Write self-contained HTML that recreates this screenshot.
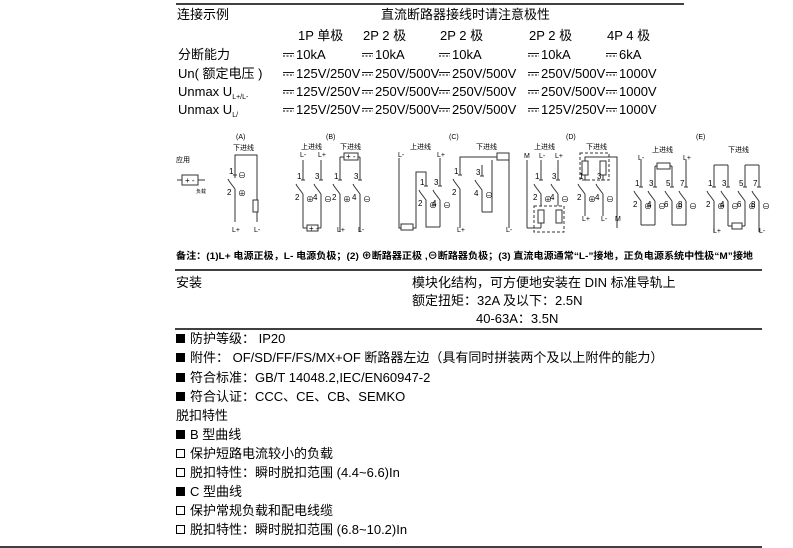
<!DOCTYPE html>
<html><head><meta charset="utf-8"><style>
html,body{margin:0;padding:0;background:#fff;}
svg{display:block}
text{font-family:"Liberation Sans","Noto Sans CJK SC",sans-serif;fill:#000}
.t{font-size:13px}
.s{font-size:7px}
.n{font-size:9.5px;font-weight:bold}
</style></head><body>
<svg width="793" height="548" viewBox="0 0 793 548" xmlns="http://www.w3.org/2000/svg">
<g stroke="#000" stroke-width="1.4">
<line x1="176" y1="4" x2="684" y2="4"/>
<line x1="175" y1="270" x2="762" y2="270"/>
<line x1="175" y1="329" x2="762" y2="329"/>
<line x1="0" y1="547" x2="762" y2="547"/>
</g>
<g class="t">
<text x="177" y="19">连接示例</text>
<text x="381" y="19">直流断路器接线时请注意极性</text>
<text x="298" y="40">1P 单极</text><text x="363" y="40">2P 2 极</text><text x="440" y="40">2P 2 极</text><text x="529" y="40">2P 2 极</text><text x="607" y="40">4P 4 极</text>
<text x="178" y="59">分断能力</text>
<text x="178" y="78">Un( 额定电压 )</text>
<text x="178" y="96">Unmax U<tspan font-size="7" dy="3">L+/L-</tspan></text>
<text x="178" y="114">Unmax U<tspan font-size="7" dy="3">L/</tspan></text>
<text x="296" y="59">10kA</text><text x="375" y="59">10kA</text><text x="452" y="59">10kA</text><text x="541" y="59">10kA</text><text x="619" y="59">6kA</text>
<text x="296" y="78">125V/250V</text><text x="375" y="78">250V/500V</text><text x="452" y="78">250V/500V</text><text x="541" y="78">250V/500V</text><text x="619" y="78">1000V</text>
<text x="296" y="96">125V/250V</text><text x="375" y="96">250V/500V</text><text x="452" y="96">250V/500V</text><text x="541" y="96">250V/500V</text><text x="619" y="96">1000V</text>
<text x="296" y="114">125V/250V</text><text x="375" y="114">250V/500V</text><text x="452" y="114">250V/500V</text><text x="541" y="114">125V/250V</text><text x="619" y="114">1000V</text>
</g>
<g id="dc" stroke="#000" stroke-width="0.9"></g>
<g id="d" stroke="#333" stroke-width="1" fill="none"></g>
<g class="s">
<text x="176" y="162">应用</text><text x="196" y="193" font-size="5">负载</text>
<text x="236" y="139">(A)</text><text x="233" y="150">下进线</text>
<text x="326" y="139">(B)</text><text x="301" y="149">上进线</text><text x="340" y="149">下进线</text>
<text x="449" y="139">(C)</text><text x="410" y="149">上进线</text><text x="476" y="149">下进线</text>
<text x="566" y="139">(D)</text><text x="534" y="149">上进线</text><text x="586" y="149">下进线</text>
<text x="696" y="139">(E)</text><text x="652" y="152">上进线</text><text x="728" y="152">下进线</text>
<text x="232" y="232">L+</text><text x="254" y="232">L-</text>
<text x="300" y="157">L-</text><text x="318" y="157">L+</text><text x="337" y="232">L+</text><text x="358" y="232">L-</text>
<text x="398" y="157">L-</text><text x="437" y="157">L+</text><text x="457" y="232">L+</text><text x="506" y="232">L-</text>
<text x="524" y="158">M</text><text x="539" y="158">L-</text><text x="555" y="158">L+</text>
<text x="582" y="221">L+</text><text x="601" y="221">L-</text><text x="615" y="221">M</text>
<text x="638" y="160">L-</text><text x="683" y="160">L+</text><text x="713" y="233">L+</text><text x="759" y="233">L-</text>
</g>
<g id="lab" font-size="8"></g>
<text class="n" x="176" y="259" textLength="577" lengthAdjust="spacingAndGlyphs">备注：(1)L+ 电源正极，L- 电源负极；(2) ⊕断路器正极 ,⊖断路器负极；(3) 直流电源通常“L-”接地，正负电源系统中性极“M”接地</text>
<g class="t">
<text x="176" y="287">安装</text>
<text x="412" y="287">模块化结构，可方便地安装在 DIN 标准导轨上</text>
<text x="412" y="305">额定扭矩：32A 及以下：2.5N</text>
<text x="476" y="323">40-63A：3.5N</text>
<text x="190" y="343">防护等级： IP20</text>
<text x="190" y="362">附件： OF/SD/FF/FS/MX+OF 断路器左边（具有同时拼装两个及以上附件的能力）</text>
<text x="190" y="382">符合标准：GB/T 14048.2,IEC/EN60947-2</text>
<text x="190" y="401">符合认证：CCC、CE、CB、SEMKO</text>
<text x="176" y="420">脱扣特性</text>
<text x="190" y="439">B 型曲线</text>
<text x="190" y="458">保护短路电流较小的负载</text>
<text x="190" y="477">脱扣特性：瞬时脱扣范围 (4.4~6.6)In</text>
<text x="190" y="496">C 型曲线</text>
<text x="190" y="515">保护常规负载和配电线缆</text>
<text x="190" y="534">脱扣特性：瞬时脱扣范围 (6.8~10.2)In</text>
</g>
<g fill="#000"><rect x="176" y="334" width="9" height="9"/><rect x="176" y="353" width="9" height="9"/><rect x="176" y="373" width="9" height="9"/><rect x="176" y="392" width="9" height="9"/><rect x="176" y="430" width="9" height="9"/><rect x="176" y="487" width="9" height="9"/></g>
<g fill="none" stroke="#000"><rect x="176.5" y="449.5" width="8" height="8"/><rect x="176.5" y="468.5" width="8" height="8"/><rect x="176.5" y="506.5" width="8" height="8"/><rect x="176.5" y="525.5" width="8" height="8"/></g>
</svg>
<script>
var NS="http://www.w3.org/2000/svg";
function el(p,t,a){var e=document.createElementNS(NS,t);for(var k in a)e.setAttribute(k,a[k]);document.getElementById(p).appendChild(e);return e;}
// dc symbols
[296,375,452,541,619].forEach(function(x){[55,74,92,110].forEach(function(y){
 el("dc","line",{x1:x-13,y1:y-1.5,x2:x-2,y2:y-1.5});
 el("dc","line",{x1:x-13,y1:y+1,x2:x-2,y2:y+1,"stroke-dasharray":"2,1.5"});});});
function L(a,b,c,d){el("d","line",{x1:a,y1:b,x2:c,y2:d});}
function PL(pts){el("d","polyline",{points:pts});}
function R(x,y,w,h,dash){var o={x:x,y:y,width:w,height:h,fill:"#fff"};if(dash)o["stroke-dasharray"]="3,2";el("d","rect",o);}
function T(x,y,s,c){var e=el("lab","text",{x:x,y:y});if(c)e.setAttribute("style","fill:"+c);e.textContent=s;}
function pole(x,y1,t,y2,n1,n2,sym){L(x,y1,x,t);L(x-2,t,x+2,t);L(x-6,t+6,x,t+14);L(x-6,t+6,x-7,t+4);L(x,t+14,x,y2);
 if(n1)T(x-6,t-1,n1);if(n2)T(x-8,t+20,n2);if(sym)T(x+3,t+22,sym);}
// load symbol
L(177,180,205,180);R(182,175,16,10);T(185,183,"+ -");
// A
PL("235,178 235,155 257,155 257,222");R(253,200,5,12);pole(235,160,175,222,"1","2");T(238,178,"⊖");T(238,196,"⊕");
// B
pole(303,160,180,228,"1","2","⊕");pole(321,160,180,228,"3","4","⊖");L(303,228,321,228);R(307,225,11,6);T(309,231,"+ -");
pole(340,157,180,232,"1","2","⊕");pole(360,157,180,232,"3","4","⊖");L(340,157,360,157);R(344,153,14,7);T(346,159,"+ -");
// C
PL("399,158 399,228 416,228 416,172 426,172 426,185");R(401,224,12,6);pole(426,185,186,210,"1","2","⊕");pole(440,158,186,227,"3","4","⊖");PL("426,210 426,227 440,227");
PL("460,170 460,157 497,157");R(497,153,12,7);PL("509,157 509,228");pole(460,170,175,228,"1","2");pole(482,165,176,212,"3","4","⊖");PL("482,212 492,212 492,160");
// D
L(527,160,527,228);pole(541,160,180,210,"1","2","⊕");pole(558,160,180,210,"3","4","⊖");R(534,206,30,26,1);R(538,210,6,13);R(556,210,6,13);L(527,228,541,228);L(541,223,541,228);
R(580,153,29,27,1);PL("585,161 585,157 617,157 617,228");R(582,161,6,14);R(600,161,6,14);pole(585,175,180,216,"1","2","⊕");pole(603,175,180,216,"3","4","⊖");
// E
pole(641,160,187,225,"1","2","⊕");pole(655,166,187,225,"3","4","⊖");pole(672,166,187,225,"5","6","⊕");pole(686,160,187,225,"7","8","⊖");
L(655,166,672,166);R(657,163,13,6);L(641,225,655,225);L(672,225,686,225);
pole(714,165,187,232,"1","2","⊕");pole(728,165,187,226,"3","4","⊖");pole(745,165,187,226,"5","6","⊕");pole(759,165,187,232,"7","8","⊖");
L(714,165,728,165);L(745,165,759,165);L(728,226,745,226);R(732,223,10,6);
</script>
</body></html>
